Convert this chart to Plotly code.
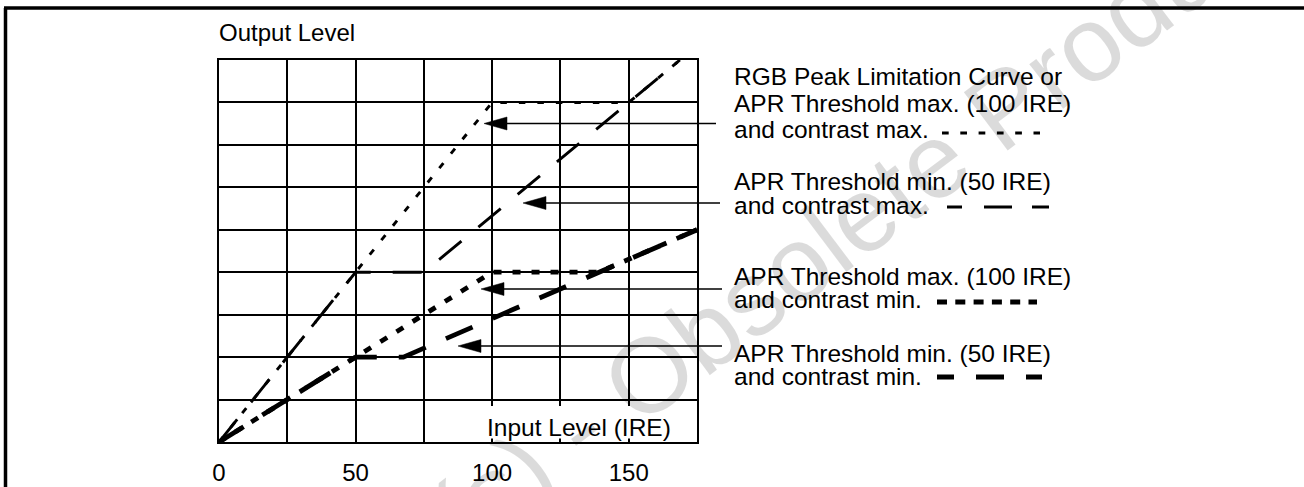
import plotly.graph_objects as go

W, H = 1304, 487
L, R, T, B = 219, 697, 60, 442   # plot area in pixels

# ---------------- data ----------------
x_ticks = [0, 25, 50, 75, 100, 125, 150, 175]
x_ticktext = ["0", "", "50", "", "100", "", "150", ""]
y_ticks = [0, 1, 2, 3, 4, 5, 6, 7, 8, 9]

# APR Threshold max. (100 IRE), contrast max.  (RGB peak limitation curve)
thr100_cmax_x = [0, 100, 150, 168.75]
thr100_cmax_y = [0, 8, 8, 9]
# APR Threshold min. (50 IRE), contrast max.
thr50_cmax_x = [0, 50, 75, 168.75]
thr50_cmax_y = [0, 4, 4, 9]
# APR Threshold max. (100 IRE), contrast min.
thr100_cmin_x = [0, 100, 139, 175]
thr100_cmin_y = [0, 4, 4, 5]
# APR Threshold min. (50 IRE), contrast min.
thr50_cmin_x = [0, 50, 67.5, 175]
thr50_cmin_y = [0, 2, 2, 5]

label_lines = [
    ["RGB Peak Limitation Curve or", "APR Threshold max. (100 IRE)", "and contrast max."],
    ["APR Threshold min. (50 IRE)", "and contrast max."],
    ["APR Threshold max. (100 IRE)", "and contrast min."],
    ["APR Threshold min. (50 IRE)", "and contrast min."],
]

# ---------------- helpers (pixel -> paper) ----------------
def px(x):
    return (x - L) / (R - L)

def py(y):
    return (B - y) / (B - T)

FONT = "Liberation Sans, Arial, Helvetica, sans-serif"
FS = 24
LFS = 24.5

fig = go.Figure()

fig.add_trace(go.Scatter(x=thr100_cmax_x, y=thr100_cmax_y, mode="lines",
                         line=dict(color="black", width=2.9, dash="6.5px,12px"),
                         showlegend=False, hoverinfo="skip"))
fig.add_trace(go.Scatter(x=thr50_cmax_x, y=thr50_cmax_y, mode="lines",
                         line=dict(color="black", width=2.9, dash="29px,22px"),
                         showlegend=False, hoverinfo="skip"))
fig.add_trace(go.Scatter(x=thr100_cmin_x, y=thr100_cmin_y, mode="lines",
                         line=dict(color="black", width=4.8, dash="8px,11px"),
                         showlegend=False, hoverinfo="skip"))
fig.add_trace(go.Scatter(x=thr50_cmin_x, y=thr50_cmin_y, mode="lines",
                         line=dict(color="black", width=4.8, dash="29px,22px"),
                         showlegend=False, hoverinfo="skip"))

shapes = []
annotations = []

# watermark (drawn first)
annotations.append(dict(
    text="Obsolete Product(s) - Obsolete Product(s)", xref="paper", yref="paper",
    x=px(578), y=py(428), xanchor="center", yanchor="middle", showarrow=False,
    textangle=-37, font=dict(family=FONT, size=106, color="rgba(0,0,0,0.14)")))

# frame lines
shapes.append(dict(type="line", xref="paper", yref="paper", x0=px(4), x1=px(1304),
                   y0=py(8), y1=py(8), line=dict(color="black", width=3.5)))
shapes.append(dict(type="line", xref="paper", yref="paper", x0=px(5.5), x1=px(5.5),
                   y0=py(8), y1=py(487), line=dict(color="black", width=3.5)))

# white box behind "Input Level (IRE)"
shapes.append(dict(type="rect", xref="paper", yref="paper", x0=px(481), x1=px(692),
                   y0=py(438.5), y1=py(406), fillcolor="white", line=dict(width=0),
                   layer="above"))
annotations.append(dict(text="Input Level (IRE)", xref="paper", yref="paper",
                        x=px(486), y=py(427.5), xanchor="left", yanchor="middle",
                        showarrow=False, borderpad=0,
                        font=dict(family=FONT, size=24.5, color="black")))
annotations.append(dict(text="Output Level", xref="paper", yref="paper",
                        x=px(218), y=py(32), xanchor="left", yanchor="middle",
                        showarrow=False, borderpad=0,
                        font=dict(family=FONT, size=FS, color="black")))

# labels: one annotation per label; line pitch set through the base font size
label_center = [103, 193, 288.25, 364.5]
label_pitch = [26.5, 24, 22.5, 23]
for lines, yc, pitch in zip(label_lines, label_center, label_pitch):
    txt = "<br>".join('<span style="font-size:{}px">{}</span>'.format(LFS, t) for t in lines)
    annotations.append(dict(text=txt, xref="paper", yref="paper", x=px(733), y=py(yc),
                            xanchor="left", yanchor="middle", align="left",
                            showarrow=False, borderpad=0,
                            font=dict(family=FONT, size=pitch / 1.3, color="black")))

# arrows (tip x, y, tail x)
arrows = [(484, 123.5, 716), (523, 203, 720), (481, 289, 722), (458, 346, 722)]
for tip, ya, tail in arrows:
    shapes.append(dict(type="line", xref="paper", yref="paper", x0=px(tip + 20), x1=px(tail),
                       y0=py(ya), y1=py(ya), line=dict(color="black", width=1.5)))
    path = "M {},{} L {},{} L {},{} Z".format(px(tip), py(ya), px(tip + 23), py(ya - 6.5),
                                              px(tip + 23), py(ya + 6.5))
    shapes.append(dict(type="path", xref="paper", yref="paper", path=path,
                       fillcolor="black", line=dict(color="black", width=0.5)))

# legend samples after the label text
samples = [
    (942, 1040, 133, 3, "6.7px,11.6px"),
    (947, 1049, 207, 3, "15px,22px,28px,20px,17px,200px"),
    (937, 1037, 302, 5, "10px,8.3px"),
    (937, 1042, 377, 5, "17px,22px,28px,22px,17px,200px"),
]
for x0, x1, yy, w, d in samples:
    shapes.append(dict(type="line", xref="paper", yref="paper", x0=px(x0), x1=px(x1),
                       y0=py(yy), y1=py(yy), line=dict(color="black", width=w, dash=d)))

fig.update_layout(
    width=W, height=H,
    margin=dict(l=L, r=W - R, t=T, b=H - B, pad=0, autoexpand=False),
    paper_bgcolor="white", plot_bgcolor="white",
    shapes=shapes, annotations=annotations,
    font=dict(family=FONT, size=FS, color="black"),
)
fig.update_xaxes(range=[0, 175], tickvals=x_ticks, ticktext=x_ticktext,
                 showgrid=True, gridcolor="black", gridwidth=1.5,
                 showline=True, mirror=True, linecolor="black", linewidth=1.5,
                 zeroline=False, ticks="", ticklabelstandoff=8, automargin=False,
                 tickfont=dict(family=FONT, size=FS, color="black"), fixedrange=True)
fig.update_yaxes(range=[0, 9], tickvals=y_ticks, showticklabels=False,
                 showgrid=True, gridcolor="black", gridwidth=1.5,
                 showline=True, mirror=True, linecolor="black", linewidth=1.5,
                 zeroline=False, ticks="", automargin=False, fixedrange=True)

fig.write_html("out.html",
               config={"displayModeBar": False},
               post_script="document.body.style.margin='0';"
                           "document.body.style.padding='0';"
                           "document.body.style.overflow='hidden';")
